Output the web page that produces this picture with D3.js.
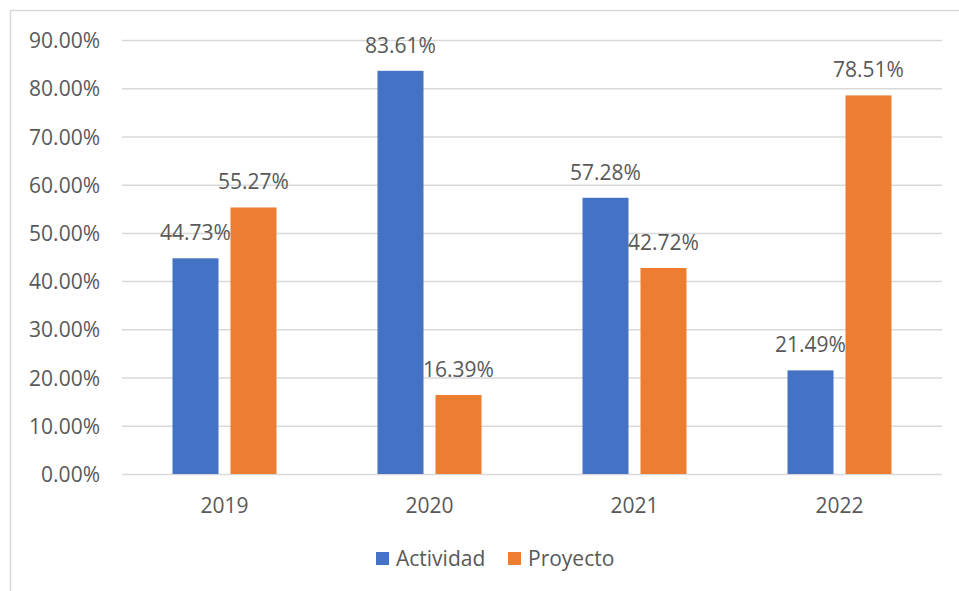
<!DOCTYPE html>
<html>
<head>
<meta charset="utf-8">
<script src="https://cdn.jsdelivr.net/npm/d3@7"></script>
<style>
  html, body { margin: 0; padding: 0; background: #fff; }
  svg { display: block; }
  text { font-family: "Open Sans", sans-serif; fill: #595959; }
</style>
</head>
<body>
<svg id="chart" width="959" height="591"></svg>
<script>
const years = ["2019", "2020", "2021", "2022"];
const seriesNames = ["Actividad", "Proyecto"];
const actividad = [44.73, 83.61, 57.28, 21.49];
const proyecto = [55.27, 16.39, 42.72, 78.51];
const yTicks = [0, 10, 20, 30, 40, 50, 60, 70, 80, 90];
const colors = ["#4472C4", "#ED7D31"];

const values = [actividad, proyecto];
const svg = d3.select("#chart");
const W = 959, H = 591;

// outer frame (top and left edges visible)
svg.append("path")
  .attr("d", `M10.5,${H} L10.5,10.5 L${W},10.5`)
  .attr("fill", "none").attr("stroke", "#d9d9d9").attr("stroke-width", 1.5);

const plotLeft = 122, plotRight = 942, plotTop = 40, plotBottom = 474;
const y = d3.scaleLinear().domain([0, 90]).range([plotBottom, plotTop]);
const x0 = d3.scaleBand().domain(years).range([plotLeft, plotRight]).padding(0);
const innerPad = (x0.bandwidth() - 104) / 2;
const x1 = d3.scaleBand().domain(seriesNames)
  .range([innerPad, x0.bandwidth() - innerPad]).paddingInner(0.2069).paddingOuter(0);

// gridlines
const yAxis = d3.axisLeft(y).tickValues(yTicks)
  .tickSize(-(plotRight - plotLeft)).tickFormat(d => d.toFixed(2) + "%");
const gy = svg.append("g").attr("transform", `translate(${plotLeft},0)`).call(yAxis);
gy.select(".domain").remove();
gy.selectAll(".tick line").attr("stroke", "#d9d9d9").attr("stroke-width", 1.5);
gy.selectAll(".tick text")
  .attr("x", -22).attr("dy", "0.36em")
  .style("font-size", "21px").style("font-family", "'Open Sans', sans-serif")
  .attr("fill", "#595959");

// bars
const groups = svg.append("g").selectAll("g").data(years).join("g")
  .attr("transform", d => `translate(${x0(d)},0)`);

groups.each(function(yr, i) {
  const g = d3.select(this);
  seriesNames.forEach((s, j) => {
    const v = values[j][i];
    g.append("rect")
      .attr("x", x1(s)).attr("width", x1.bandwidth())
      .attr("y", y(v)).attr("height", y(0) - y(v))
      .attr("fill", colors[j]);
    g.append("text")
      .attr("x", x1(s) + x1.bandwidth() / 2)
      .attr("y", y(v) - 18)
      .attr("text-anchor", "middle")
      .style("font-size", "21px")
      .text(v.toFixed(2) + "%");
  });
});

// x axis labels
const xAxis = d3.axisBottom(x0).tickSize(0).tickPadding(0);
const gx = svg.append("g").attr("transform", `translate(0,${plotBottom})`).call(xAxis);
gx.select(".domain").remove();
gx.selectAll(".tick text")
  .attr("y", 39).attr("dy", 0)
  .style("font-size", "21px").style("font-family", "'Open Sans', sans-serif")
  .attr("fill", "#595959");

// legend
const legendItems = [{name: seriesNames[0], x: 376, color: colors[0]},
                     {name: seriesNames[1], x: 508, color: colors[1]}];
const lg = svg.append("g");
legendItems.forEach(it => {
  lg.append("rect").attr("x", it.x).attr("y", 552).attr("width", 13).attr("height", 13).attr("fill", it.color);
  lg.append("text").attr("x", it.x + 20).attr("y", 566).style("font-size", "21px").text(it.name);
});
</script>
</body>
</html>
